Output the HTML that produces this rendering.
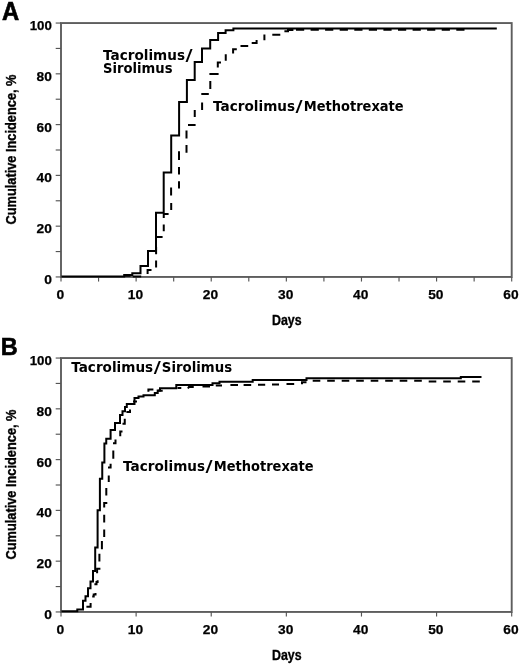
<!DOCTYPE html>
<html><head><meta charset="utf-8"><title>Cumulative Incidence</title>
<style>
html,body{margin:0;padding:0;background:#fff;}
svg{display:block}
.ax{font-family:"Liberation Sans",sans-serif;font-weight:bold;font-size:13.6px;fill:#000;stroke:#000;stroke-width:0.25px}
.ttl{font-size:14.4px;stroke-width:0.35px}
.lb{font-family:"DejaVu Sans","Liberation Sans",sans-serif;font-weight:bold;font-size:13.6px;fill:#000}
.pn{font-family:"Liberation Sans",sans-serif;font-weight:bold;font-size:25.4px;fill:#000;stroke:#000;stroke-width:0.6px}
.s{fill:none;stroke:#000;stroke-width:2.0;stroke-linejoin:miter;stroke-linecap:butt}
</style></head><body>
<svg width="520" height="664" viewBox="0 0 520 664">
<rect width="520" height="664" fill="#fff"/>
<rect x="61.0" y="23.05" width="450.7" height="253.89999999999998" fill="none" stroke="#5e5e5e" stroke-width="1.9"/>
<line x1="55.7" y1="276.95" x2="61.0" y2="276.95" stroke="#555" stroke-width="1.15"/>
<line x1="55.7" y1="251.56" x2="61.0" y2="251.56" stroke="#555" stroke-width="1.15"/>
<line x1="55.7" y1="226.17" x2="61.0" y2="226.17" stroke="#555" stroke-width="1.15"/>
<line x1="55.7" y1="200.78" x2="61.0" y2="200.78" stroke="#555" stroke-width="1.15"/>
<line x1="55.7" y1="175.39" x2="61.0" y2="175.39" stroke="#555" stroke-width="1.15"/>
<line x1="55.7" y1="150.00" x2="61.0" y2="150.00" stroke="#555" stroke-width="1.15"/>
<line x1="55.7" y1="124.61" x2="61.0" y2="124.61" stroke="#555" stroke-width="1.15"/>
<line x1="55.7" y1="99.22" x2="61.0" y2="99.22" stroke="#555" stroke-width="1.15"/>
<line x1="55.7" y1="73.83" x2="61.0" y2="73.83" stroke="#555" stroke-width="1.15"/>
<line x1="55.7" y1="48.44" x2="61.0" y2="48.44" stroke="#555" stroke-width="1.15"/>
<line x1="55.7" y1="23.05" x2="61.0" y2="23.05" stroke="#555" stroke-width="1.15"/>
<line x1="61.00" y1="276.95" x2="61.00" y2="281.55" stroke="#555" stroke-width="1.15"/>
<line x1="98.56" y1="276.95" x2="98.56" y2="281.55" stroke="#555" stroke-width="1.15"/>
<line x1="136.12" y1="276.95" x2="136.12" y2="281.55" stroke="#555" stroke-width="1.15"/>
<line x1="173.68" y1="276.95" x2="173.68" y2="281.55" stroke="#555" stroke-width="1.15"/>
<line x1="211.23" y1="276.95" x2="211.23" y2="281.55" stroke="#555" stroke-width="1.15"/>
<line x1="248.79" y1="276.95" x2="248.79" y2="281.55" stroke="#555" stroke-width="1.15"/>
<line x1="286.35" y1="276.95" x2="286.35" y2="281.55" stroke="#555" stroke-width="1.15"/>
<line x1="323.91" y1="276.95" x2="323.91" y2="281.55" stroke="#555" stroke-width="1.15"/>
<line x1="361.47" y1="276.95" x2="361.47" y2="281.55" stroke="#555" stroke-width="1.15"/>
<line x1="399.02" y1="276.95" x2="399.02" y2="281.55" stroke="#555" stroke-width="1.15"/>
<line x1="436.58" y1="276.95" x2="436.58" y2="281.55" stroke="#555" stroke-width="1.15"/>
<line x1="474.14" y1="276.95" x2="474.14" y2="281.55" stroke="#555" stroke-width="1.15"/>
<line x1="511.70" y1="276.95" x2="511.70" y2="281.55" stroke="#555" stroke-width="1.15"/>
<text class="ax" x="44.20" y="283.85" textLength="7.7" lengthAdjust="spacingAndGlyphs">0</text>
<text class="ax" x="36.60" y="233.07" textLength="15.3" lengthAdjust="spacingAndGlyphs">20</text>
<text class="ax" x="36.60" y="182.29" textLength="15.3" lengthAdjust="spacingAndGlyphs">40</text>
<text class="ax" x="36.60" y="131.51" textLength="15.3" lengthAdjust="spacingAndGlyphs">60</text>
<text class="ax" x="36.60" y="80.73" textLength="15.3" lengthAdjust="spacingAndGlyphs">80</text>
<text class="ax" x="29.70" y="29.95" textLength="22.2" lengthAdjust="spacingAndGlyphs">100</text>
<text class="ax" x="56.45" y="298.95" textLength="7.7" lengthAdjust="spacingAndGlyphs">0</text>
<text class="ax" x="127.77" y="298.95" textLength="15.3" lengthAdjust="spacingAndGlyphs">10</text>
<text class="ax" x="202.88" y="298.95" textLength="15.3" lengthAdjust="spacingAndGlyphs">20</text>
<text class="ax" x="278.00" y="298.95" textLength="15.3" lengthAdjust="spacingAndGlyphs">30</text>
<text class="ax" x="353.12" y="298.95" textLength="15.3" lengthAdjust="spacingAndGlyphs">40</text>
<text class="ax" x="428.23" y="298.95" textLength="15.3" lengthAdjust="spacingAndGlyphs">50</text>
<text class="ax" x="503.35" y="298.95" textLength="15.3" lengthAdjust="spacingAndGlyphs">60</text>
<text class="ax ttl" x="286.8" y="324.7" text-anchor="middle" textLength="29.6" lengthAdjust="spacingAndGlyphs">Days</text>
<text class="ax ttl" transform="translate(15.9 224.5) rotate(-90)" textLength="150" lengthAdjust="spacingAndGlyphs">Cumulative Incidence, %</text>
<path d="M61.5,276.4 H124.2 V274.9 H132.3 V273.2 H140.5 V266.0 H148.0 V251.0 H156.0 V212.8 H163.7 V172.5 H171.2 V135.6 H179.1 V101.9 H186.9 V80.1 H194.7 V61.9 H202.0 V48.5 H210.2 V40.0 H218.1 V33.1 H225.6 V30.3 H233.4 V28.4 H496.8" class="s"/>
<path d="M124.4,275.8 L130.5,275.8 M132.8,276.5 L141.2,276.5 M147.6,274.0 L147.6,269.9 L151.5,269.9 M156.1,260.4 L156.1,267.5 M156.1,247 L156.1,254.2 M156.0,237.1 L162.6,237.1 M163.75,224.4 L163.75,231.3 M163.75,218 L163.75,214.0 L168.6,214.0 M171.2,203.0 L171.2,210.0 M171.1,187.5 L171.1,195.6 M179.0,181.2 L179.0,188.5 M179.0,166.9 L179.0,174.4 M179.0,151.2 L179.0,160.0 M186.5,145.0 L186.5,152.75 M186.5,130.6 L186.5,138.4 M188.0,125.0 L195.6,125.0 M194.75,110.0 L194.75,116.9 M202.1,102.5 L202.1,110.0 M201.3,94.0 L208.8,94.0 M210.3,81.0 L210.3,89.0 M209.4,74.0 L218.6,74.0 M217.8,67.5 L217.8,62.5 L221.0,62.5 M225.75,54.3 L225.75,60.7 M233.1,53.5 L233.1,49.3 L236.8,49.3 M240.5,46.1 L248.2,46.1 M251.7,42.9 L256.6,42.9 L256.6,40.0 M264.4,34.4 L264.4,40.2 M272.3,34.8 L280.3,34.8 M284.4,31.3 L288.0,31.3 L288.0,29.9 L293.4,29.9 M296.0,29.85 L304.2,29.85 M310.6,29.85 L318.8,29.85 M325.1,29.85 L333.3,29.85 M339.7,29.85 L347.9,29.85 M354.3,29.85 L362.5,29.85 M368.8,29.85 L377.0,29.85 M383.4,29.85 L391.6,29.85 M398.0,29.85 L406.2,29.85 M412.6,29.85 L420.8,29.85 M427.1,29.85 L435.3,29.85 M441.7,29.85 L449.9,29.85 M456.3,29.85 L464.5,29.85" class="s"/>
<text class="lb"><tspan x="103.0" y="59.6" textLength="82.0" lengthAdjust="spacingAndGlyphs">Tacrolimus</tspan><tspan x="185.5" y="60.5" font-size="15.2" textLength="7.1" lengthAdjust="spacingAndGlyphs">/</tspan></text>
<text class="lb"><tspan x="103.0" y="72.6" textLength="69.6" lengthAdjust="spacingAndGlyphs">Sirolimus</tspan></text>
<text class="lb"><tspan x="213.1" y="111.0" textLength="82.0" lengthAdjust="spacingAndGlyphs">Tacrolimus</tspan><tspan x="295.6" y="111.9" font-size="15.2" textLength="7.1" lengthAdjust="spacingAndGlyphs">/</tspan><tspan x="303.7" y="111.0" textLength="100.0" lengthAdjust="spacingAndGlyphs">Methotrexate</tspan></text>
<rect x="61.0" y="358.05" width="450.7" height="253.90000000000003" fill="none" stroke="#5e5e5e" stroke-width="1.9"/>
<line x1="55.7" y1="611.95" x2="61.0" y2="611.95" stroke="#555" stroke-width="1.15"/>
<line x1="55.7" y1="586.56" x2="61.0" y2="586.56" stroke="#555" stroke-width="1.15"/>
<line x1="55.7" y1="561.17" x2="61.0" y2="561.17" stroke="#555" stroke-width="1.15"/>
<line x1="55.7" y1="535.78" x2="61.0" y2="535.78" stroke="#555" stroke-width="1.15"/>
<line x1="55.7" y1="510.39" x2="61.0" y2="510.39" stroke="#555" stroke-width="1.15"/>
<line x1="55.7" y1="485.00" x2="61.0" y2="485.00" stroke="#555" stroke-width="1.15"/>
<line x1="55.7" y1="459.61" x2="61.0" y2="459.61" stroke="#555" stroke-width="1.15"/>
<line x1="55.7" y1="434.22" x2="61.0" y2="434.22" stroke="#555" stroke-width="1.15"/>
<line x1="55.7" y1="408.83" x2="61.0" y2="408.83" stroke="#555" stroke-width="1.15"/>
<line x1="55.7" y1="383.44" x2="61.0" y2="383.44" stroke="#555" stroke-width="1.15"/>
<line x1="55.7" y1="358.05" x2="61.0" y2="358.05" stroke="#555" stroke-width="1.15"/>
<line x1="61.00" y1="611.95" x2="61.00" y2="616.5500000000001" stroke="#555" stroke-width="1.15"/>
<line x1="136.12" y1="611.95" x2="136.12" y2="616.5500000000001" stroke="#555" stroke-width="1.15"/>
<line x1="211.23" y1="611.95" x2="211.23" y2="616.5500000000001" stroke="#555" stroke-width="1.15"/>
<line x1="286.35" y1="611.95" x2="286.35" y2="616.5500000000001" stroke="#555" stroke-width="1.15"/>
<line x1="361.47" y1="611.95" x2="361.47" y2="616.5500000000001" stroke="#555" stroke-width="1.15"/>
<line x1="436.58" y1="611.95" x2="436.58" y2="616.5500000000001" stroke="#555" stroke-width="1.15"/>
<line x1="511.70" y1="611.95" x2="511.70" y2="616.5500000000001" stroke="#555" stroke-width="1.15"/>
<text class="ax" x="44.20" y="618.85" textLength="7.7" lengthAdjust="spacingAndGlyphs">0</text>
<text class="ax" x="36.60" y="568.07" textLength="15.3" lengthAdjust="spacingAndGlyphs">20</text>
<text class="ax" x="36.60" y="517.29" textLength="15.3" lengthAdjust="spacingAndGlyphs">40</text>
<text class="ax" x="36.60" y="466.51" textLength="15.3" lengthAdjust="spacingAndGlyphs">60</text>
<text class="ax" x="36.60" y="415.73" textLength="15.3" lengthAdjust="spacingAndGlyphs">80</text>
<text class="ax" x="29.70" y="364.95" textLength="22.2" lengthAdjust="spacingAndGlyphs">100</text>
<text class="ax" x="56.45" y="633.95" textLength="7.7" lengthAdjust="spacingAndGlyphs">0</text>
<text class="ax" x="127.77" y="633.95" textLength="15.3" lengthAdjust="spacingAndGlyphs">10</text>
<text class="ax" x="202.88" y="633.95" textLength="15.3" lengthAdjust="spacingAndGlyphs">20</text>
<text class="ax" x="278.00" y="633.95" textLength="15.3" lengthAdjust="spacingAndGlyphs">30</text>
<text class="ax" x="353.12" y="633.95" textLength="15.3" lengthAdjust="spacingAndGlyphs">40</text>
<text class="ax" x="428.23" y="633.95" textLength="15.3" lengthAdjust="spacingAndGlyphs">50</text>
<text class="ax" x="503.35" y="633.95" textLength="15.3" lengthAdjust="spacingAndGlyphs">60</text>
<text class="ax ttl" x="286.8" y="659.7" text-anchor="middle" textLength="29.6" lengthAdjust="spacingAndGlyphs">Days</text>
<text class="ax ttl" transform="translate(15.9 559.5) rotate(-90)" textLength="150" lengthAdjust="spacingAndGlyphs">Cumulative Incidence, %</text>
<path d="M61.5,611.2 H77.3 V609.6 H83.0 V600.7 H85.5 V596.2 H88.0 V588.2 H90.5 V581.6 H93.0 V571.0 H95.2 V547.5 H97.6 V510.2 H99.9 V478.75 H102.25 V462.5 H104.4 V443.5 H106.25 V438.75 H110.6 V430.0 H115.0 V423.0 H120.0 V415.0 H122.5 V411.25 H125.0 V406.9 H126.8 V404.0 H134.5 V398.1 H138.5 V396.6 H143.5 V395.2 H154.8 V392.9 H157.7 V390.5 H160.0 V388.2 H176.3 V385.1 H212.5 V383.3 H219.5 V381.7 H252.7 V379.9 H306.5 V378.3 H460.8 V376.9 H481.5" class="s"/>
<path d="M86.4,606.8 L90.6,606.8 L90.6,603.1 M92.2,596.5 L93.7,596.5 L93.7,594.5 L95.5,594.5 L95.5,593.0 M94.4,584.2 L96.5,584.2 L96.5,582.0 L97.6,582.0 L97.6,580.3 M97.1,573.3 L97.1,568.8 L100.4,568.8 M99.4,553.7 L99.4,561.4 M101.9,541.0 L101.9,549.2 M104.2,529.5 L104.2,537.0 M104.2,514.7 L104.2,522.6 M104.2,507.4 L104.2,503.1 L107.3,503.1 M106.3,488.1 L106.3,495.6 M108.75,475.6 L108.75,481.9 M108.0,467.5 L110.6,467.5 L110.6,463.75 M113.3,450.6 L113.3,458.75 M113.0,443.2 L115.5,443.2 L115.5,439.5 M120.25,436.25 L120.25,431.5 L122.5,431.5 M122.5,423.75 L124.75,423.75 L124.75,418.75 M126.4,412.0 L130.0,412.0 L130.0,409.5 M133.0,401.5 L137.0,401.5 M148.4,391.8 L148.4,389.5 L153.4,389.5 M158.0,390.8 L162.7,390.8 M177.5,388.0 L181.3,388.0 M188.0,388.4 L188.8,387.0 L193.75,387.0 M202.5,386.4 L210.0,386.4 M215.8,385.4 L222.0,385.4 M230.4,385.0 L238.0,385.0 M243.6,384.9 L251.2,384.9 M258.0,384.7 L265.2,384.7 M272.0,384.5 L279.0,384.5 M286.5,383.9 L294.2,383.9 M302.0,384.3 L302.0,382.2 L306.5,382.2 M312.7,380.8 L320.3,380.8 M327.2,380.8 L334.8,380.8 M341.7,380.8 L349.3,380.8 M356.2,380.8 L363.8,380.8 M370.7,380.8 L378.3,380.8 M385.2,380.8 L392.8,380.8 M399.7,380.8 L407.3,380.8 M414.2,380.8 L421.8,380.8 M428.7,381.4 L436.3,381.4 M443.2,381.4 L450.8,381.4 M457.7,381.4 L465.3,381.4 M472.2,381.4 L479.8,381.4" class="s"/>
<text class="lb"><tspan x="71.2" y="371.8" textLength="82.0" lengthAdjust="spacingAndGlyphs">Tacrolimus</tspan><tspan x="153.7" y="372.7" font-size="15.2" textLength="7.1" lengthAdjust="spacingAndGlyphs">/</tspan><tspan x="161.8" y="371.8" textLength="70.3" lengthAdjust="spacingAndGlyphs">Sirolimus</tspan></text>
<text class="lb"><tspan x="123.1" y="471.3" textLength="82.0" lengthAdjust="spacingAndGlyphs">Tacrolimus</tspan><tspan x="205.6" y="472.2" font-size="15.2" textLength="7.1" lengthAdjust="spacingAndGlyphs">/</tspan><tspan x="213.7" y="471.3" textLength="100.0" lengthAdjust="spacingAndGlyphs">Methotrexate</tspan></text>
<text class="pn" x="1.9" y="19.5" textLength="17.2" lengthAdjust="spacingAndGlyphs">A</text>
<text class="pn" x="0.7" y="354.85" style="font-size:24.7px" textLength="17.0" lengthAdjust="spacingAndGlyphs">B</text>
</svg>
</body></html>
